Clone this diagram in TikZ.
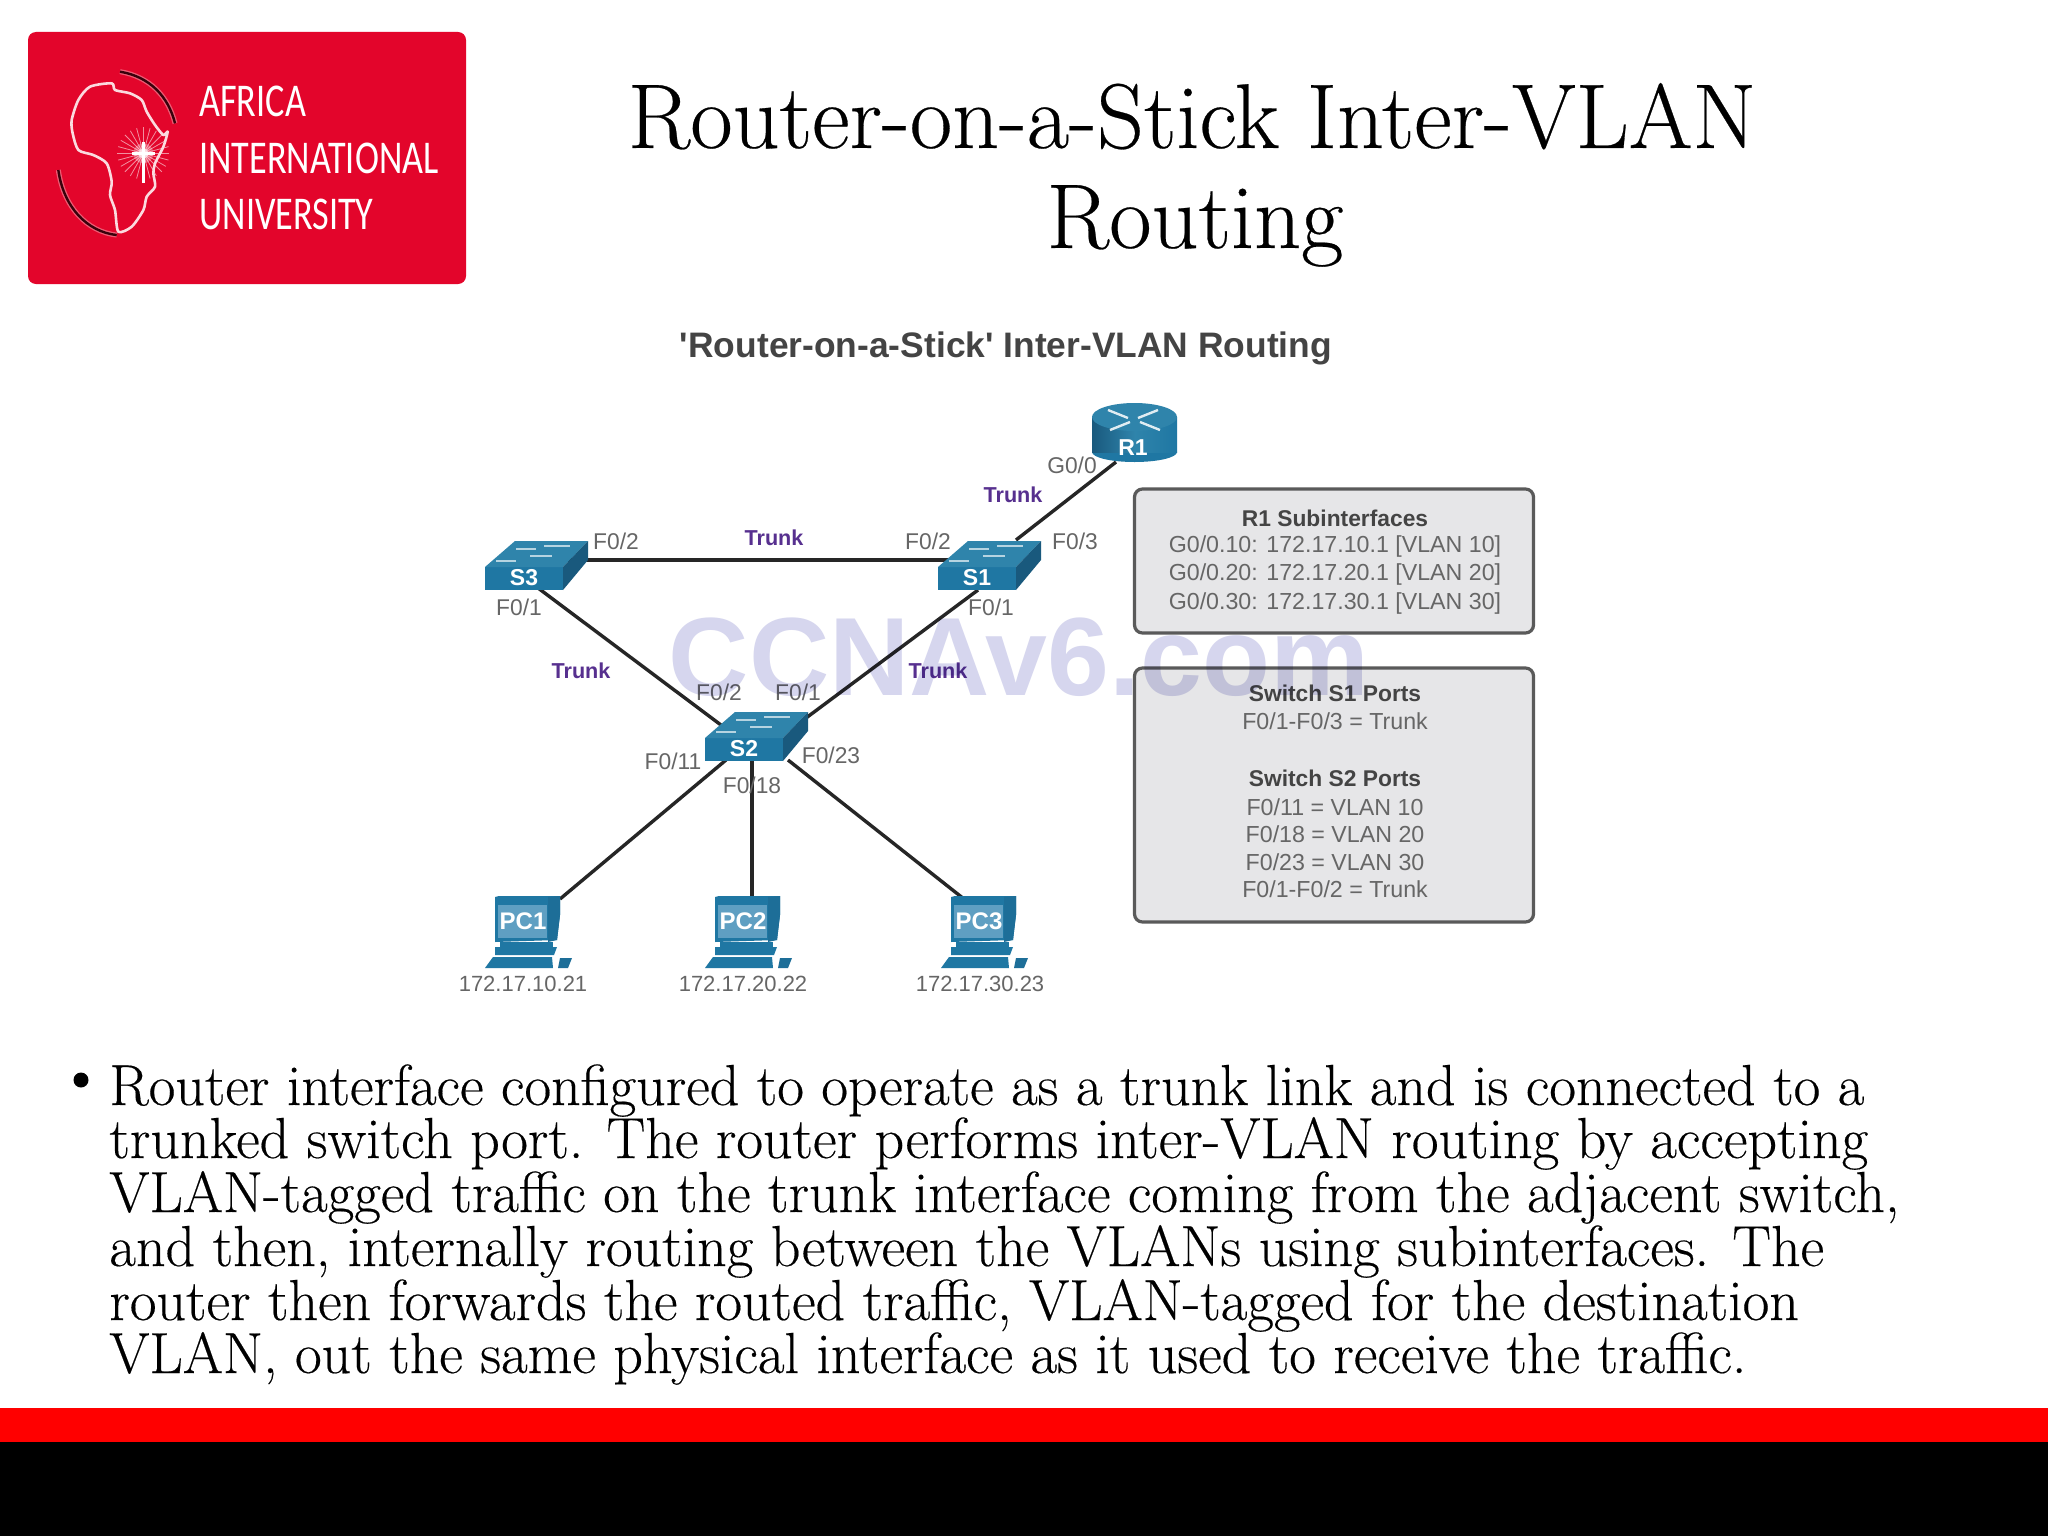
\documentclass[tikz,border=0pt]{standalone}
\usepackage{fontspec}
\usepackage{graphicx}
\newfontfamily\lsans{Liberation Sans}
\newfontfamily\logofont{Carlito}
\newfontfamily\serifb[FakeBold=0.3]{lmroman17-regular.otf}
\pgfdeclarelayer{links}
\pgfsetlayers{links,main}
\definecolor{logored}{HTML}{E3052B}
\definecolor{barred}{HTML}{FF0000}
\definecolor{ciscotop}{HTML}{2F84AB}
\definecolor{ciscofront}{HTML}{1F77A3}
\definecolor{ciscoside}{HTML}{19597D}
\definecolor{ciscoscreen}{HTML}{5F9FC2}
\definecolor{portgrey}{HTML}{666666}
\definecolor{headgrey}{HTML}{444444}
\definecolor{trunkpurple}{HTML}{57308F}
\definecolor{boxfill}{HTML}{E6E6E8}
\definecolor{boxedge}{HTML}{5A5A5A}
\definecolor{wmark}{HTML}{D6D6EE}
\newcommand{\fs}[1]{\fontsize{#1}{#1}\selectfont}
\newcommand{\narrow}[1]{\scalebox{.77}[1]{#1}}
\tikzset{
  x=0.5pt,y=-0.5pt,
  slidetitle/.style={anchor=base,inner sep=0,font=\serifb\fs{46}},
  bodyline/.style={anchor=base west,inner sep=0,font=\serifb\fs{28.95}},
  logotext/.style={anchor=base west,inner sep=0,text=white,font=\logofont\fs{23.5}},
  devlabel/.style={inner sep=0,text=white,font=\lsans\bfseries\fs{11.5}},
  pclabel/.style={inner sep=0,text=white,font=\lsans\bfseries\fs{12}},
  port/.style={inner sep=0,text=portgrey,font=\lsans\fs{11.4}},
  iplabel/.style={inner sep=0,text=portgrey,font=\lsans\fs{11}},
  trunk/.style={inner sep=0,text=trunkpurple,font=\lsans\bfseries\fs{10.8}},
  link/.style={line width=1.7pt,draw=black!85},
  infobox/.style={draw=boxedge,fill=boxfill,line width=1.6pt,rounded corners=4pt},
  infohead/.style={inner sep=0,text=headgrey,font=\lsans\bfseries\fs{11.4}},
  infotext/.style={inner sep=0,text=portgrey,font=\lsans\fs{11.6}},
  switchicon/.pic={
    \fill[ciscofront] (-39,-11) rectangle (39,12);
    \fill[ciscotop] (-39,-11) -- (-9,-37) -- (64,-37) -- (39,-11) -- cycle;
    \fill[ciscoside] (39,-11) -- (64,-37) -- (64,-18) -- (39,12) -- cycle;
    \draw[white,opacity=.65,line width=.8pt]
      (-28,-17) -- (-8,-17) (-8,-29) -- (12,-29) (6,-22) -- (28,-22) (20,-32) -- (46,-32);
  },
  routericon/.pic={
    \fill[ciscofront] (1.5,4) ellipse [x radius=42.5,y radius=10];
    \shade[left color=ciscoside,right color=ciscofront,middle color=ciscotop] (-41,-31) rectangle (44,4);
    \fill[ciscotop] (1.5,-31) ellipse [x radius=42.5,y radius=14];
    \draw[white,opacity=.85,line width=1.2pt]
      (-25,-38) -- (-5,-30) (-23,-18) -- (-3,-26) (25,-38) -- (5,-30) (27,-18) -- (7,-26);
  },
  pcicon/.pic={
    \fill[ciscofront] (-28,-24) -- (-24,-25) -- (37,-25) -- (37,-6) -- (34,19) -- (-28,21) -- cycle;
    \fill[ciscofront!70!ciscoside] (25,-24) -- (37,-25) -- (37,-6) -- (34,19) -- (25,21) -- cycle;
    \fill[ciscoscreen] (-25,-16) rectangle (24,17);
    \fill[ciscofront] (-23,21) -- (30,21) -- (30,26) -- (-23,26) -- cycle;
    \fill[ciscofront] (-28,26) -- (34,26) -- (31,34) -- (-28,34) -- cycle;
    \fill[ciscofront] (-30,36) -- (29,36) -- (30,47) -- (-38,47) -- cycle;
    \fill[ciscofront!70!ciscoside] (37,37) -- (49,37) -- (45,47) -- (35,47) -- cycle;
  },
}
\begin{document}
\begin{tikzpicture}
\useasboundingbox (0,0) rectangle (2048,1536);
\begin{pgfonlayer}{links}
\fill[white] (0,0) rectangle (2048,1536);
\end{pgfonlayer}

% footer bands
\fill[barred] (0,1408) rectangle (2048,1442);
\fill[black] (0,1442) rectangle (2048,1536);

% logo
\fill[logored,rounded corners=4pt] (28,32) rectangle (466,284);
\begin{scope}[x=0.1667pt,y=-0.1667pt]
  \fill[white,opacity=.3] (430,460) circle[radius=30];
  \foreach \a in {0,15,...,345}{
    \draw[white,opacity=.55,line width=.4pt] (430,460) -- ++(\a:78);
  }
  \fill[white,opacity=.6] (430,460) circle[radius=16];
  \draw[white!85!logored,line width=1.3pt,line join=round]
    plot[smooth cycle,tension=.45] coordinates {
      (335,250) (345,270) (390,280) (425,300) (440,335) (465,375) (490,405) (503,395)
      (490,440) (465,490) (460,520) (465,560) (440,590) (430,630) (395,680) (355,695)
      (345,630) (330,585) (335,545) (320,490) (280,465) (235,450) (218,400) (215,360)
      (235,300) (270,260)};
  \draw[white,line width=1.5pt] (430,425) -- (430,550) (395,460) -- (465,460);
  \draw[white,opacity=.35,line width=2.5pt] (360,215) .. controls (450,230) and (505,290) .. (525,370);
  \draw[black!75!logored,line width=1.2pt] (360,215) .. controls (450,230) and (505,290) .. (525,370);
  \draw[white,opacity=.35,line width=2.5pt] (175,510) .. controls (190,620) and (260,695) .. (350,705);
  \draw[black!75!logored,line width=1.2pt] (175,510) .. controls (190,620) and (260,695) .. (350,705);
\end{scope}
\node[logotext] (logoa) at (199,117) {\narrow{AFRICA}};
\node[logotext] (logob) at (199,173) {\narrow{INTERNATIONAL}};
\node[logotext] (logoc) at (199,229) {\narrow{UNIVERSITY}};

% slide title
\node[slidetitle] (titlea) at (1192,148) {Router-on-a-Stick Inter-VLAN};
\node[slidetitle] (titleb) at (1195,248) {Routing};

% figure heading
\node[inner sep=0,text=headgrey,font=\lsans\bfseries\fs{17.7}] (fighead) at (1006,348)
  {'Router-on-a-Stick' Inter-VLAN Routing};

% devices
\pic at (1133,448) {routericon};
\node[devlabel] (R1) at (1133,448) {R1};
\pic at (524,578) {switchicon};
\node[devlabel] (S3) at (524,578) {S3};
\pic at (977,578) {switchicon};
\node[devlabel] (S1) at (977,578) {S1};
\pic at (744,749) {switchicon};
\node[devlabel] (S2) at (744,749) {S2};
\pic at (523,921) {pcicon};
\node[pclabel] (PC1) at (523,921) {PC1};
\pic at (743,921) {pcicon};
\node[pclabel] (PC2) at (743,921) {PC2};
\pic at (979,921) {pcicon};
\node[pclabel] (PC3) at (979,921) {PC3};

% connectors
\begin{pgfonlayer}{links}
\draw[link] ([shift={(40,-18)}]S3.center) -- ([shift={(-20,-18)}]S1.center);
\draw[link] ([shift={(14,10)}]S3.center) -- ([shift={(-23,-24)}]S2.center);
\draw[link] ([shift={(1,12)}]S1.center) -- ([shift={(62,-31)}]S2.center);
\draw[link] ([shift={(-17,14)}]R1.center) -- ([shift={(39,-38)}]S1.center);
\draw[link] ([shift={(-18,11)}]S2.center) -- ([shift={(37,-22)}]PC1.center);
\draw[link] ([shift={(8,11)}]S2.center) -- ([shift={(9,-22)}]PC2.center);
\draw[link] ([shift={(44,11)}]S2.center) -- ([shift={(-15,-22)}]PC3.center);
\end{pgfonlayer}

% port labels
\node[port] (p1) at (1072,465) {G0/0};
\node[port] (p2) at (1075,541) {F0/3};
\node[port] (p3) at (616,541) {F0/2};
\node[port] (p4) at (928,541) {F0/2};
\node[port] (p5) at (519,607) {F0/1};
\node[port] (p6) at (991,607) {F0/1};
\node[port] (p7) at (719,692) {F0/2};
\node[port] (p8) at (798,692) {F0/1};
\node[port] (p9) at (673,761) {F0/11};
\node[port] (p10) at (752,785) {F0/18};
\node[port] (p11) at (831,755) {F0/23};
\node[iplabel] (ipa) at (523,984) {172.17.10.21};
\node[iplabel] (ipb) at (743,984) {172.17.20.22};
\node[iplabel] (ipc) at (980,984) {172.17.30.23};

% trunk labels
\node[trunk] (t1) at (1013,495) {Trunk};
\node[trunk] (t2) at (774,538) {Trunk};
\node[trunk] (t3) at (581,671) {Trunk};
\node[trunk] (t4) at (938,671) {Trunk};

% info boxes
\node[infobox,minimum width=199.5pt,minimum height=72pt,inner sep=0] (boxa) at (1334,561) {};
\node[infobox,minimum width=199.5pt,minimum height=127pt,inner sep=0] (boxb) at (1334,795) {};
\node[infohead] (a0) at (1335,518) {R1 Subinterfaces};
\node[infotext] (a1) at (1335,546) {G0/0.10: 172.17.10.1 [VLAN 10]};
\node[infotext] (a2) at (1335,574) {G0/0.20: 172.17.20.1 [VLAN 20]};
\node[infotext] (a3) at (1335,603) {G0/0.30: 172.17.30.1 [VLAN 30]};
\node[infohead] (b0) at (1335,693) {Switch S1 Ports};
\node[infotext] (b1) at (1335,721) {F0/1-F0/3 = Trunk};
\node[infohead] (b2) at (1335,778) {Switch S2 Ports};
\node[infotext] (b3) at (1335,807) {F0/11 = VLAN 10};
\node[infotext] (b4) at (1335,834) {F0/18 = VLAN 20};
\node[infotext] (b5) at (1335,862) {F0/23 = VLAN 30};
\node[infotext] (b6) at (1335,889) {F0/1-F0/2 = Trunk};

% body text
\fill[black] (81,1080) circle[radius=7.5];
\node[bodyline] (l1) at (109,1105) {Router interface configured to operate as a trunk link and is connected to a};
\node[bodyline] (l2) at (109,1158) {trunked switch port. The router performs inter-VLAN routing by accepting};
\node[bodyline] (l3) at (109,1212) {VLAN-tagged traffic on the trunk interface coming from the adjacent switch,};
\node[bodyline] (l4) at (109,1266) {and then, internally routing between the VLANs using subinterfaces. The};
\node[bodyline] (l5) at (109,1320) {router then forwards the routed traffic, VLAN-tagged for the destination};
\node[bodyline] (l6) at (109,1373) {VLAN, out the same physical interface as it used to receive the traffic.};

% watermark
\begin{scope}[blend mode=multiply]
\node[anchor=base,inner sep=0,text=wmark,font=\lsans\bfseries\fs{55.6}] (wm) at (1019,695) {CCNAv6.com};
\end{scope}
\end{tikzpicture}
\end{document}
